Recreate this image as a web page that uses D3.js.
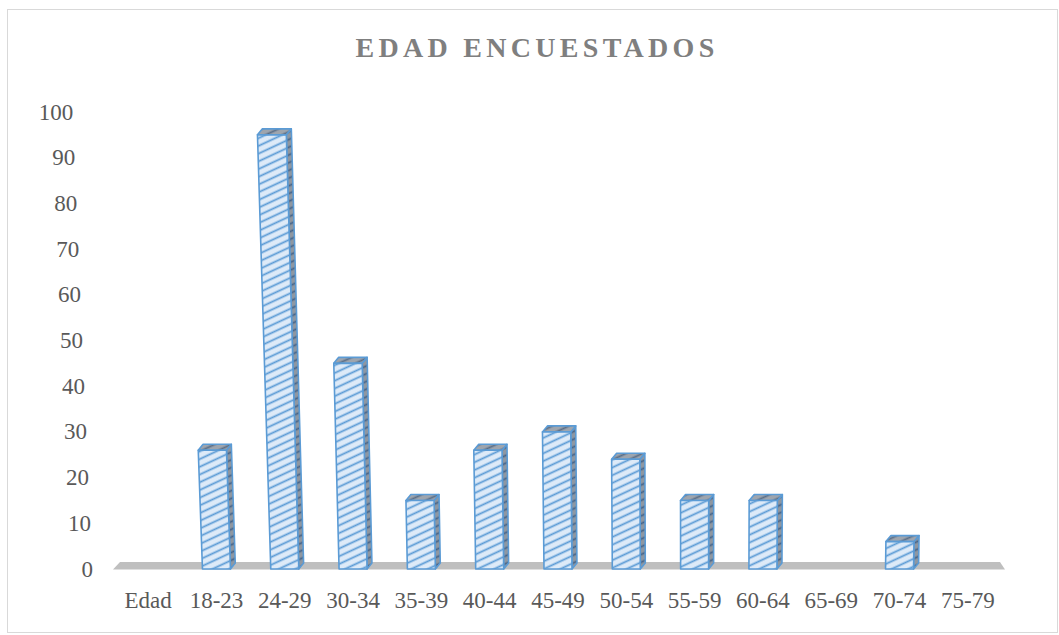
<!DOCTYPE html>
<html>
<head>
<meta charset="utf-8">
<script src="https://cdn.jsdelivr.net/npm/d3@7"></script>
<style>
  body { margin: 0; background: #fff; }
  text { font-family: "Liberation Serif", "Times New Roman", serif; }
</style>
</head>
<body>
<svg id="chart" width="1059" height="635"></svg>
<script>
// data
const categories = ["Edad", "18-23", "24-29", "30-34", "35-39", "40-44", "45-49", "50-54", "55-59", "60-64", "65-69", "70-74", "75-79"];
const counts = [null, 26, 95, 45, 15, 26, 30, 24, 15, 15, 0, 6, 0];
const yTicks = [0, 10, 20, 30, 40, 50, 60, 70, 80, 90, 100];
const title = "EDAD ENCUESTADOS";

const svg = d3.select('#chart');

// chart frame
svg.append('rect')
  .attr('x', 7.5).attr('y', 9.5)
  .attr('width', 1050).attr('height', 623)
  .attr('fill', '#fff')
  .attr('stroke', '#d9d9d9');

const x = d3.scaleBand().domain(categories).range([114, 1002]);
const y = d3.scaleLinear().domain([0, 100]).range([569, 112]);

// slight perspective: things lean away from a point as they rise
const vx = 700, D = 14000;
const proj = (px, py) => {
  const h = y(0) - py;
  return [px + h * (px - vx) / D, py];
};

// hatch patterns
const defs = svg.append('defs');
function hatch(id, bg, line) {
  const p = defs.append('pattern')
    .attr('id', id)
    .attr('patternUnits', 'userSpaceOnUse')
    .attr('width', 8).attr('height', 7)
    .attr('patternTransform', 'rotate(-25)');
  p.append('rect').attr('width', 8).attr('height', 7).attr('fill', bg);
  p.append('line')
    .attr('x1', 0).attr('y1', 3.5).attr('x2', 8).attr('y2', 3.5)
    .attr('stroke', line).attr('stroke-width', 1.8);
}
hatch('front', '#ddeaf8', '#5b9bd5');
hatch('side', '#8f97a1', '#46658a');
hatch('top', '#9ea5ae', '#5a6f88');

// title
svg.append('text')
  .attr('x', 537).attr('y', 47)
  .attr('text-anchor', 'middle')
  .attr('dominant-baseline', 'central')
  .attr('font-size', 28)
  .attr('font-weight', 'bold')
  .attr('letter-spacing', 4.3)
  .attr('fill', '#7f7f7f')
  .text(title);

// floor
const floorPts = [[113, 569.5], [120, 562], [1000, 562], [1005, 569.5]];
svg.append('polygon')
  .attr('points', floorPts.map(p => p.join(',')).join(' '))
  .attr('fill', '#bfbfbf');

// y tick labels
svg.append('g')
  .selectAll('text')
  .data(yTicks)
  .join('text')
  .attr('x', d => proj(93, y(d))[0])
  .attr('y', d => y(d))
  .attr('text-anchor', 'end')
  .attr('dominant-baseline', 'central')
  .attr('font-size', 23)
  .attr('fill', '#595959')
  .text(d => d);

// category labels
svg.append('g')
  .selectAll('text')
  .data(categories)
  .join('text')
  .attr('x', d => x(d) + x.bandwidth() / 2)
  .attr('y', 600)
  .attr('text-anchor', 'middle')
  .attr('dominant-baseline', 'central')
  .attr('font-size', 23)
  .attr('fill', '#595959')
  .text(d => d);

// 3d columns
const halfW = 14, dx = 5, dy = -6;
const bars = categories.map((c, i) => ({ c, v: counts[i] })).filter(d => d.v > 0);
const toPts = pts => pts.map(p => proj(p[0], p[1]).join(',')).join(' ');

const g = svg.append('g')
  .attr('stroke', '#5b9bd5')
  .attr('stroke-width', 1.6)
  .attr('stroke-linejoin', 'round');

bars.forEach(d => {
  const cx = x(d.c) + x.bandwidth() / 2;
  const l = cx - halfW, r = cx + halfW;
  const b = y(0), t = y(d.v);
  // right side
  g.append('polygon')
    .attr('points', toPts([[r, b], [r + dx, b + dy], [r + dx, t + dy], [r, t]]))
    .attr('fill', 'url(#side)');
  // top
  g.append('polygon')
    .attr('points', toPts([[l, t], [l + dx, t + dy], [r + dx, t + dy], [r, t]]))
    .attr('fill', 'url(#top)');
  // front
  g.append('polygon')
    .attr('points', toPts([[l, b], [r, b], [r, t], [l, t]]))
    .attr('fill', 'url(#front)');
});
</script>
</body>
</html>
